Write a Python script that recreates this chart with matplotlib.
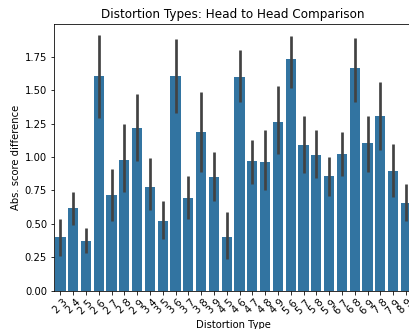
import matplotlib
matplotlib.use("Agg")
import matplotlib.pyplot as plt
import numpy as np

pairs = ["2 3", "2 4", "2 5", "2 6", "2 7", "2 8", "2 9", "3 4", "3 5", "3 6",
         "3 7", "3 8", "3 9", "4 5", "4 6", "4 7", "4 8", "4 9", "5 6", "5 7",
         "5 8", "5 9", "6 7", "6 8", "6 9", "7 8", "7 9", "8 9"]
means = [0.40, 0.616, 0.374, 1.606, 0.716, 0.977, 1.217, 0.778, 0.524, 1.606,
         0.69, 1.19, 0.85, 0.40, 1.596, 0.967, 0.962, 1.259, 1.730, 1.092,
         1.015, 0.86, 1.022, 1.665, 1.102, 1.309, 0.898, 0.656]
ci_low = [0.26, 0.49, 0.28, 1.29, 0.52, 0.74, 0.97, 0.60, 0.39, 1.33,
          0.54, 0.89, 0.67, 0.24, 1.41, 0.80, 0.75, 1.02, 1.52, 0.88,
          0.84, 0.71, 0.86, 1.41, 0.89, 1.05, 0.70, 0.52]
ci_high = [0.54, 0.74, 0.47, 1.91, 0.91, 1.25, 1.47, 0.99, 0.67, 1.88,
           0.86, 1.49, 1.04, 0.59, 1.80, 1.13, 1.20, 1.53, 1.905, 1.31,
           1.20, 1.00, 1.19, 1.887, 1.31, 1.56, 1.10, 0.80]

W, H = 409, 329
dpi = 72
fig = plt.figure(figsize=(W / dpi, H / dpi), dpi=dpi)
left, right, top, bottom = 54, 412.3, 24, 290.7
ax = fig.add_axes([left / W, 1 - bottom / H, (right - left) / W, (bottom - top) / H])

x = np.arange(len(pairs))
m = np.array(means)
lo = m - np.array(ci_low)
hi = np.array(ci_high) - m
ax.bar(x, m, width=0.8, color="#3274a1")
ax.errorbar(x, m, yerr=[lo, hi], fmt="none", ecolor="#424242", elinewidth=2.7, capsize=0)

ax.set_xlim(-0.5, len(pairs) - 0.5)
ax.set_ylim(0, 1.995)
ax.set_yticks([0, 0.25, 0.5, 0.75, 1.0, 1.25, 1.5, 1.75])
ax.set_xticks(x)
ax.set_xticklabels(pairs, rotation=45)
ax.set_title("Distortion Types: Head to Head Comparison")
ax.set_xlabel("Distortion Type")
ax.set_ylabel("Abs. score difference")

fig.savefig("out.png", dpi=dpi)
